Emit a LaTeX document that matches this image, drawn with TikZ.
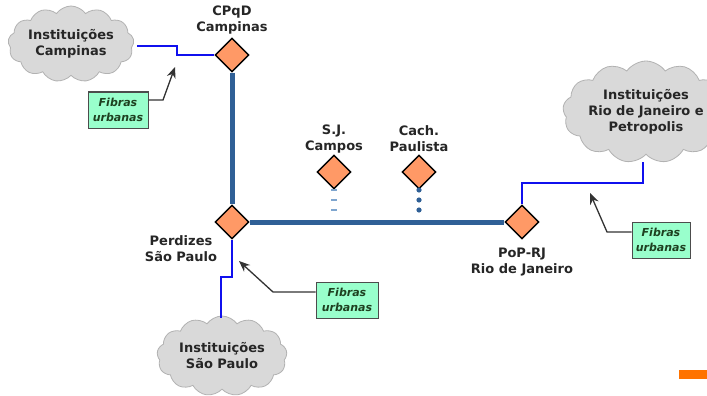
\documentclass[tikz,border=0pt]{standalone}
\usepackage{fontspec}
\setmainfont{DejaVu Sans}
\usetikzlibrary{shapes.geometric,shapes.symbols,arrows.meta}
\definecolor{trunk}{HTML}{2F6096}
\definecolor{fiber}{HTML}{1010EE}
\definecolor{dia}{HTML}{FF9966}
\definecolor{cloudfill}{HTML}{D9D9D9}
\definecolor{boxfill}{HTML}{99FFCC}
\definecolor{boxtext}{HTML}{1E4020}
\definecolor{bar}{HTML}{FF7300}
\definecolor{dashcol}{HTML}{7FA6CF}
\begin{document}
\begin{tikzpicture}[x=1pt,y=-1pt,
  site/.style={diamond,draw=black,line width=1.4pt,fill=dia,minimum width=34pt,minimum height=34pt,inner sep=0pt},
  lbl/.style={font=\bfseries\fontsize{13}{16}\selectfont,align=center,text=black!85},
  inst/.style={cloud,cloud puffs=13,cloud puff arc=110,cloud ignores aspect,draw=gray!60,line width=0.8pt,fill=cloudfill,font=\bfseries\fontsize{13}{16}\selectfont,align=center,text=black!85,inner sep=0pt},
  fbox/.style={rectangle,draw=black!70,line width=1pt,fill=boxfill,minimum width=60pt,minimum height=36pt,inner sep=0pt,font=\bfseries\itshape\fontsize{11}{15}\selectfont,text=boxtext,align=center},
  ptr/.style={draw=black!80,line width=1.3pt,-{Stealth[length=11pt,width=9pt]}},
  trunkline/.style={draw=trunk,line width=5pt},
  fiberline/.style={draw=fiber,line width=2.4pt},
]
\useasboundingbox (0,0) rectangle (707,396);
\fill[white] (0,0) rectangle (707,396);

% clouds
\node[inst,minimum width=126pt,minimum height=76pt] (cC) at (71,44) {Instituições\\Campinas};
\node[inst,minimum width=134pt,minimum height=102pt] (cR) at (646,112) {Instituições\\Rio de Janeiro e\\Petropolis};
\node[inst,minimum width=130pt,minimum height=80pt] (cS) at (222,356) {Instituições\\São Paulo};

% sites
\node[site] (cpqd) at (232,55) {};
\node[site] (perd) at (232,222) {};
\node[site] (poprj) at (522,222) {};
\node[site] (sjc) at (334,172) {};
\node[site] (cach) at (419,172) {};

% labels
\node[lbl] (lcpqd) at (232,20) {CPqD\\Campinas};
\node[lbl] (lsjc) at (334,139) {S.J.\\Campos};
\node[lbl] (lcach) at (419,139) {Cach.\\Paulista};
\node[lbl] (lperd) at (181,249) {Perdizes\\São Paulo};
\node[lbl] (lpop) at (522,262) {PoP-RJ\\Rio de Janeiro};

% trunk
\draw[trunkline] (cpqd) -- (perd);
\draw[trunkline] (perd) -- (poprj);

% dashes and dots
\foreach \yy in {190,200,210} {
  \draw[dashcol,line width=1.3pt] (331,\yy) -- (337,\yy);
  \fill[trunk] (419,\yy) circle (2.6pt);
}

% fibres
\coordinate (c1) at (137,46);
\draw[fiberline] (c1) -- (177,46) -- (177,55) -- (cpqd.west);
\coordinate (s1) at (221,318);
\draw[fiberline] (perd.south) -- (232,277) -- (221,277) -- (s1);
\coordinate (r1) at (643,162);
\draw[fiberline] (poprj.north) -- (522,183) -- (643,183) -- (r1);

% fibras boxes
\node[fbox] (fbC) at (118,110) {Fibras\\urbanas};
\node[fbox,minimum width=62pt] (fbS) at (347,300) {Fibras\\urbanas};
\node[fbox,minimum width=58pt] (fbR) at (661,240) {Fibras\\urbanas};

\coordinate (tC) at (175,67);
\coordinate (tS) at (239,261);
\coordinate (tR) at (590,193);
\draw[ptr] ([yshift=10pt]fbC.east) -- (163,100) -- (tC);
\draw[ptr] ([yshift=8pt]fbS.west) -- (273,292) -- (tS);
\draw[ptr] ([yshift=8pt]fbR.west) -- (607,232) -- (tR);

% orange bar
\fill[bar] (679,370) rectangle (707,379);
\end{tikzpicture}
\end{document}
